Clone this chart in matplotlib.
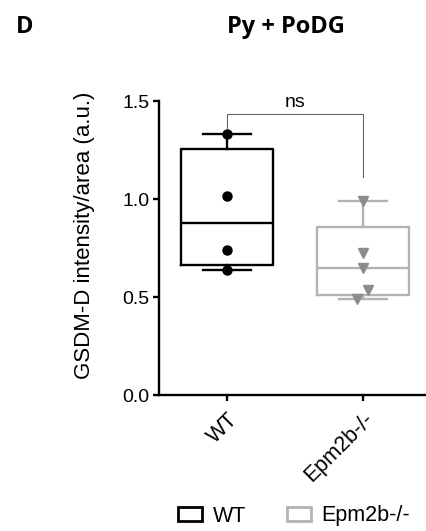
import numpy as np
import matplotlib
matplotlib.use("Agg")
import matplotlib.pyplot as plt
from matplotlib.patches import Patch

plt.rcParams['font.family'] = ['Liberation Sans', 'DejaVu Sans']

# ---- data ----
groups = ["WT", "Epm2b-/-"]
wt_values = [1.332, 1.016, 0.738, 0.636]
epm_values = [0.99, 0.725, 0.65, 0.535, 0.49]
yticks = [0.0, 0.5, 1.0, 1.5]
ytick_labels = ["0.0", "0.5", "1.0", "1.5"]
title = "Py + PoDG"
panel = "D"
ylabel = "GSDM-D intensity/area (a.u.)"
sig_label = "ns"

W, H = 427, 531
fig = plt.figure(figsize=(W / 100, H / 100), dpi=100)
ax = fig.add_axes([159 / W, (H - 395) / H, (427 - 159) / W, (395 - 101) / H])

def stats(vals, label):
    v = np.asarray(vals)
    q1, med, q3 = np.percentile(v, [25, 50, 75], method='weibull')
    return dict(med=med, q1=q1, q3=q3, whislo=v.min(), whishi=v.max(),
                fliers=[], label=label)

black = "#000000"
gray = "#b3b3b3"
gray_mark = "#8c8c8c"
lw = 1.7

for i, (vals, col) in enumerate([(wt_values, black), (epm_values, gray)]):
    ax.bxp([stats(vals, groups[i])], positions=[i], widths=0.68,
           capwidths=0.35, showfliers=False, patch_artist=False,
           boxprops=dict(color=col, linewidth=lw),
           whiskerprops=dict(color=col, linewidth=lw),
           capprops=dict(color=col, linewidth=lw),
           medianprops=dict(color=col, linewidth=lw),
           manage_ticks=False)

ax.plot(np.zeros(len(wt_values)), wt_values, 'o', color=black, ms=6.5, zorder=5)
epm_jitter = [0.0, 0.0, 0.0, 0.037, -0.044]
ax.plot(1 + np.array(epm_jitter), epm_values,
        'v', color=gray_mark, ms=6.5, zorder=5)

# significance bracket
ytop = 1.434
ax.plot([0, 0, 1, 1], [max(wt_values) + 0.03, ytop, ytop, max(epm_values) + 0.12],
        color="#666666", lw=0.8, zorder=4, clip_on=False)
ax.text(0.5, ytop + 0.015, sig_label, ha='center', va='bottom', fontsize=14)

ax.set_xlim(-0.5, 1.47)
ax.set_ylim(0, 1.5)
ax.set_yticks(yticks)
ax.set_yticklabels(ytick_labels, fontsize=14)
ax.set_xticks([0, 1])
ax.set_xticklabels(groups, fontsize=15.5, rotation=45, ha='right',
                   rotation_mode='anchor')
for s in ['top', 'right']:
    ax.spines[s].set_visible(False)
for s in ['left', 'bottom']:
    ax.spines[s].set_linewidth(lw)
ax.tick_params(axis='both', width=lw, length=4, direction='out', pad=3)
ax.tick_params(axis='x', pad=6)

fig.text(85 / W, 1 - 235 / H, ylabel, rotation=90, ha='center', va='center',
         fontsize=16)
fig.text(286 / W, 1 - 27 / H, title, ha='center', va='center', fontsize=17,
         fontweight='bold', family='Open Sans')
fig.text(16 / W, 1 - 27 / H, panel, ha='left', va='center', fontsize=17,
         fontweight='bold', family='Open Sans')

handles = [Patch(facecolor='white', edgecolor=black, linewidth=2.0),
           Patch(facecolor='white', edgecolor=gray, linewidth=2.0)]
fig.legend(handles, groups, loc='center', bbox_to_anchor=(294 / W, 1 - 516 / H),
           ncol=2, frameon=False, fontsize=15.5, handlelength=1.1,
           handleheight=0.6, columnspacing=1.9, handletextpad=0.5)

fig.savefig("out.png", dpi=100)
